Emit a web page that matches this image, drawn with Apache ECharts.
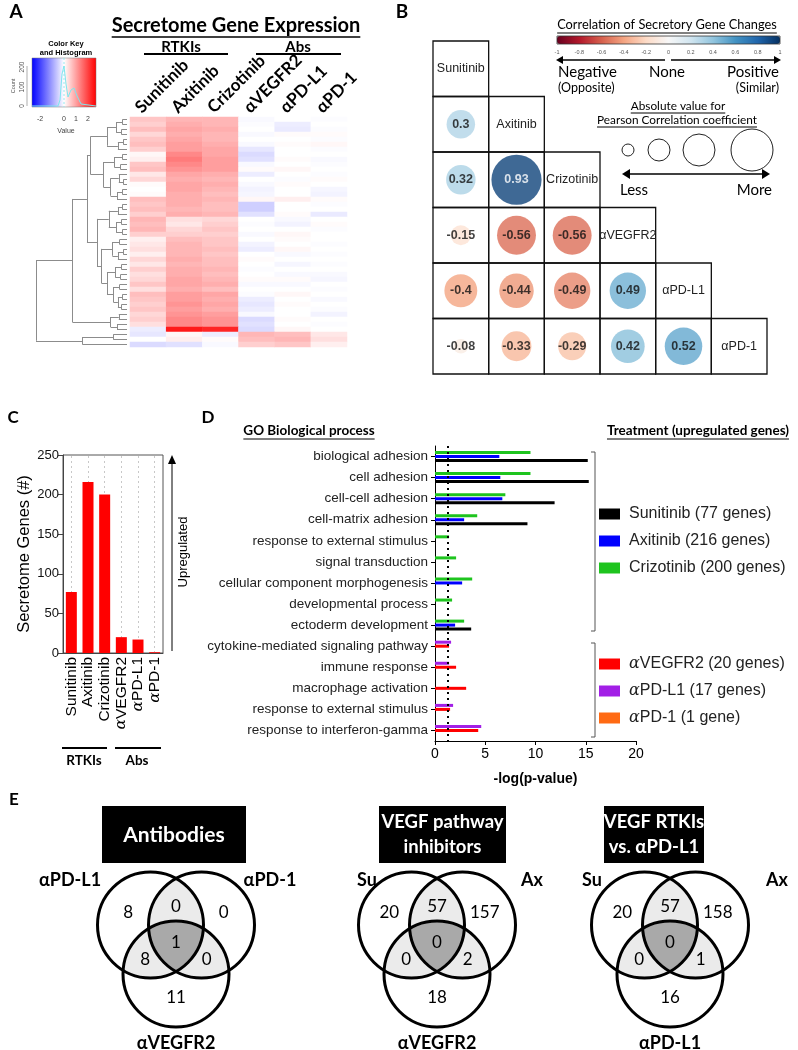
<!DOCTYPE html>
<html><head><meta charset="utf-8">
<script src="https://cdn.jsdelivr.net/npm/echarts@6/dist/echarts.min.js"></script>
<style>html,body{margin:0;padding:0;background:#fff}#c{width:798px;height:1050px}</style>
</head><body><div id="c"></div>
<script>
// ================= DATA =================
// Panel A: heatmap (rows top->bottom; columns = treatments)
const heatCols = ['Sunitinib','Axitinib','Crizotinib','αVEGFR2','αPD-L1','αPD-1'];
const heatRows = [
 [0.7,0.9,0.9,-0.1,0.0,-0.05],[0.6,1.0,0.9,-0.05,-0.3,0.0],[0.8,1.1,1.0,0.0,-0.35,-0.05],[0.5,1.0,0.9,-0.1,0.05,0.05],
 [0.7,1.1,0.9,0.0,0.0,-0.05],[0.8,1.2,1.0,-0.1,0.05,0.1],[0.6,1.2,1.1,-0.4,0.0,-0.05],[0.1,1.4,1.1,-0.6,0.0,0.0],
 [0.2,1.5,1.2,-0.5,0.05,-0.1],[0.7,1.4,1.2,-0.1,0.0,-0.05],[0.8,1.3,1.2,0.05,0.1,0.0],[0.3,1.1,1.0,-0.3,0.0,-0.05],
 [0.5,1.0,0.9,0.0,-0.05,0.05],[0.05,1.1,1.0,-0.1,0.05,0.0],[0.0,1.1,0.9,-0.2,0.0,-0.15],[0.05,1.0,0.8,-0.15,0.0,-0.2],
 [0.8,1.0,0.9,0.1,0.2,0.05],[0.7,1.0,0.8,-0.8,0.0,-0.05],[0.8,0.9,0.8,-0.8,0.0,0.0],[0.6,1.0,0.9,-0.5,0.05,-0.35],
 [0.9,0.4,0.5,0.0,-0.1,0.0],[0.8,0.3,0.6,-0.05,-0.2,0.05],[0.9,0.5,0.7,0.0,0.0,-0.05],[0.6,0.6,0.6,-0.1,0.1,0.0],
 [0.2,0.8,0.7,0.0,0.05,0.0],[0.3,0.9,0.7,-0.2,0.0,-0.05],[0.4,0.9,0.8,-0.3,0.1,0.0],[0.2,0.9,0.7,0.0,-0.1,-0.05],
 [0.5,1.0,0.8,0.05,0.0,0.0],[0.3,0.9,0.8,0.0,-0.15,-0.05],[0.6,1.0,0.9,-0.05,0.0,0.0],[0.4,1.0,0.8,0.0,-0.1,-0.1],
 [0.5,1.1,0.9,0.05,0.05,-0.15],[0.7,1.1,1.0,-0.1,-0.1,0.0],[0.4,1.0,0.8,0.0,0.0,-0.05],[0.8,1.2,1.1,-0.05,0.1,0.0],
 [0.7,1.2,1.0,-0.3,0.0,-0.1],[0.6,1.3,1.1,-0.4,0.05,0.0],[0.7,1.2,1.0,-0.3,0.0,-0.05],[0.5,1.3,1.2,-0.1,0.0,-0.2],
 [0.6,1.4,1.3,-0.6,0.05,0.0],[0.4,1.4,1.3,-0.5,0.0,-0.05],[-0.3,2.3,2.2,-0.6,0.1,0.0],[-0.4,0.1,-0.3,0.9,0.8,0.3],
 [0.0,0.2,0.05,0.8,0.9,0.4],[-0.6,-0.5,-0.1,0.6,0.7,0.2]
];
// dendrogram: node = [mergeHeight, left, right]; leaf = row index
const dendroTree = [10,
 [6.0,
  [4.4,
   [4.0,
    [2.2,[1.2,[0.5,0,1],[0.6,2,3]],[1.0,[0.4,4,5],6]],
    [2.6,[1.4,[0.5,7,8],[0.7,9,10]],[1.8,[0.9,11,[0.4,12,13]],[1.1,[0.5,14,15],16]]]],
   [3.3,
    [2.0,[1.0,[0.5,17,18],19],[1.2,[0.6,20,21],[0.5,22,23]]],
    [2.8,[1.6,[0.8,24,25],[1.0,[0.4,26,27],28]],
         [2.2,[1.3,[0.6,29,30],[0.7,31,32]],[1.5,[0.8,33,34],[1.0,[0.5,35,36],[0.6,37,38]]]]]]],
  [1.8,[0.9,39,40],[1.1,41,42]]],
 [4.9,[1.5,43,44],45]];
const keyTicks = [-2,0,1,2];

// Panel B: Pearson correlations (lower triangle)
const corrNames = ['Sunitinib','Axitinib','Crizotinib','αVEGFR2','αPD-L1','αPD-1'];
const corrRows = [[],[0.3],[0.32,0.93],[-0.15,-0.56,-0.56],[-0.4,-0.44,-0.49,0.49],[-0.08,-0.33,-0.29,0.42,0.52]];
const corrTicks = [-1,-0.8,-0.6,-0.4,-0.2,0,0.2,0.4,0.6,0.8,1];

// Panel C: upregulated secretome genes
const treatNames = ['Sunitinib','Axitinib','Crizotinib','αVEGFR2','αPD-L1','αPD-1'];
const geneCounts = [77,216,200,20,17,1];

// Panel D: GO enrichment, -log(p-value)
const goTerms = ['biological adhesion','cell adhesion','cell-cell adhesion','cell-matrix adhesion',
 'response to external stimulus','signal transduction','cellular component morphogenesis',
 'developmental process','ectoderm development','cytokine-mediated signaling pathway',
 'immune response','macrophage activation','response to external stimulus','response to interferon-gamma'];
const sunitinibLogP  = [15.2,15.3,11.9,9.2,'-','-','-','-',3.6,'-','-','-','-','-'];
const axitinibLogP   = [6.4,6.5,6.7,2.9,'-','-',2.7,'-',2.0,'-','-','-','-','-'];
const crizotinibLogP = [9.5,9.5,7.0,4.2,1.4,2.1,3.7,1.7,2.9,'-','-','-','-','-'];
const vegfr2LogP     = ['-','-','-','-','-','-','-','-','-',1.4,2.1,3.1,1.5,4.3];
const pdl1LogP       = ['-','-','-','-','-','-','-','-','-',1.6,1.4,'-',1.8,4.6];
const pd1LogP        = ['-','-','-','-','-','-','-','-','-','-','-','-','-','-'];
const pThreshold = 1.301; // -log10(0.05)

// Panel E: Venn diagrams (A only, AB, B only, AC, ABC, BC, C only)
const vennTitles = ['Antibodies','VEGF pathway\ninhibitors','VEGF RTKIs\nvs. αPD-L1'];
const vennSets = [['αPD-L1','αPD-1','αVEGFR2'],['Su','Ax','αVEGFR2'],['Su','Ax','αPD-L1']];
const vennCounts = [[8,0,0,8,1,0,11],[20,57,157,0,0,2,18],[20,57,158,0,0,1,16]];

// ================= HELPERS =================
const CAL = 'Lato', ARI = '"Liberation Sans"';
const mctx = document.createElement('canvas').getContext('2d');
function tw(t, font){ mctx.font = font; return mctx.measureText(t).width; }
const G = [];
function T(x,y,text,font,o={}){ G.push({type:'text',x,y,rotation:o.rot||0,z:20,silent:true,
  style:{text,font,fill:o.fill||'#000',align:o.align||'center',verticalAlign:o.va||'middle',lineHeight:o.lh}}); }
function L(points,color='#000',w=1,dash){ G.push({type:'polyline',z:20,silent:true,shape:{points},
  style:{stroke:color,lineWidth:w,fill:null,lineDash:dash||null}}); }
function UT(x,y,text,font,off,w=1,o={}){ T(x,y,text,font,o); const W=tw(text,font);
  const x0 = (o.align==='left')?x:(o.align==='right'?x-W:x-W/2); L([[x0,y+off],[x0+W,y+off]],'#000',w); }
function head(tip,dir,len=7,half=4,color='#000'){
  const [dx,dy]=dir; const bx=tip[0]-dx*len, by=tip[1]-dy*len;
  G.push({type:'polygon',z:20,silent:true,shape:{points:[tip,[bx-dy*half,by+dx*half],[bx+dy*half,by-dx*half]]},style:{fill:color}}); }
function alphaRich(s){ return s.startsWith('α') ? '{a|α}'+s.slice(1) : s; }

// ---- dendrogram segments ----
const dendroSegs = [];
(function walk(n){
  if (typeof n === 'number') return {y:n,h:0};
  const a = walk(n[1]), b = walk(n[2]), h = n[0];
  dendroSegs.push([[h,a.y],[h,b.y]],[[h,a.y],[a.h,a.y]],[[h,b.y],[b.h,b.y]]);
  return {y:(a.y+b.y)/2,h};
})(dendroTree);

// ================= STATIC ANNOTATIONS =================
T(16,12,'A','bold 19px '+CAL); T(402,12,'B','bold 19px '+CAL);
T(13,418,'C','bold 17px '+CAL); T(208,418,'D','bold 17px '+CAL); T(14,800,'E','bold 17px '+CAL);
// Panel A headings
UT(236,26,'Secretome Gene Expression','bold 20px '+CAL,11,1.6);
T(181,47,'RTKIs','bold 15px '+CAL); L([[144,54],[228,54]],'#000',2);
T(298,47,'Abs','bold 15px '+CAL); L([[256,54],[341,54]],'#000',2);
const HM = {left:130, top:117, width:217, height:230};
heatCols.forEach((n,i)=>T(HM.left+(i+0.5)*HM.width/heatCols.length-10,HM.top-7,n,'bold 17px '+CAL,{align:'left',rot:Math.PI/4}));
// colour key
T(66,44,'Color Key','bold 7.5px '+ARI); T(66,53,'and Histogram','bold 7.5px '+ARI);
G.push({type:'rect',z:15,silent:true,shape:{x:32,y:58,width:64,height:49},
  style:{fill:{type:'linear',x:0,y:0,x2:1,y2:0,colorStops:[{offset:0,color:'#0000ff'},{offset:0.5,color:'#ffffff'},{offset:1,color:'#ff0000'}]},stroke:'#777',lineWidth:0.5}});
L([[32,106],[58,106],[60,100],[62,74],[64,66],[66,84],[68,97],[71,90],[74,88],[77,96],[81,104],[96,106]],'#7fe6ee',1);
L([[64,58],[64,107]],'#7fe6ee',0.8,[2,2]);
L([[27,66],[27,106]],'#777',0.6);
[['200',67],['100',87],['0',106]].forEach(([t,y])=>T(22,y,t,'6.5px '+ARI,{fill:'#555',rot:Math.PI/2}));
T(13,86,'Count','5.5px '+ARI,{fill:'#555',rot:Math.PI/2});
keyTicks.forEach(v=>T(64+v*12,119,String(v),'7px '+ARI,{fill:'#444'}));
T(66,131,'Value','7px '+ARI,{fill:'#444'});

// Panel B legend
UT(667,25,'Correlation of Secretory Gene Changes','12.8px '+CAL,8);
G.push({type:'rect',z:21,silent:true,shape:{x:557,y:36,width:223,height:8},style:{fill:null,stroke:'#333',lineWidth:0.8}});
corrTicks.forEach(t=>T(557+(t+1)/2*223,52,String(t),'5.5px '+ARI,{fill:'#555'}));
L([[665,60],[561,60]],'#000',1.4); head([556,60],[-1,0],7,4);
L([[671,60],[776,60]],'#000',1.4); head([781,60],[1,0],7,4);
T(558,72,'Negative','15px '+CAL,{align:'left'}); T(667,72,'None','15px '+CAL); T(779,72,'Positive','15px '+CAL,{align:'right'});
T(558,88,'(Opposite)','12.5px '+CAL,{align:'left'}); T(779,88,'(Similar)','12.5px '+CAL,{align:'right'});
UT(678,106,'Absolute value for','11.8px '+CAL,7);
UT(677,120,'Pearson Correlation coefficient','11.8px '+CAL,7);
[[628,6],[659,11],[699,16],[752,21]].forEach(([x,r])=>G.push({type:'circle',z:20,silent:true,shape:{cx:x,cy:150,r},style:{fill:null,stroke:'#222',lineWidth:1}}));
L([[628,174],[764,174]],'#000',1.4); head([622,174],[-1,0],8,5); head([770,174],[1,0],8,5);
T(620,190,'Less','15px '+CAL,{align:'left'}); T(772,190,'More','15px '+CAL,{align:'right'});

// Panel C extras
L([[172,651],[172,462]],'#000',1); head([172,455],[0,-1],9,4);
T(183,552,'Upregulated','13px '+ARI,{rot:Math.PI/2});
L([[62,748],[107,748]],'#000',2); T(84,761,'RTKIs','bold 13.5px '+CAL);
L([[115,748],[161,748]],'#000',2); T(137,761,'Abs','bold 13.5px '+CAL);

// Panel D headings and brackets
UT(309,431,'GO Biological process','bold 13.5px '+CAL,8);
UT(698,431,'Treatment (upregulated genes)','bold 13.5px '+CAL,8);
L([[591,452],[595,452],[595,631],[591,631]],'#555',1);
L([[591,643],[595,643],[595,737],[591,737]],'#555',1);

// Panel E venns
const vennLayout = [
  {mx:176, box:[102,246], lab:[70,270], tf:21},
  {mx:437, box:[379,506], lab:[367,532], tf:18.5},
  {mx:670, box:[604,704], lab:[592,777], tf:18.5}];
function regionPoly(circles, idx){
  const pts=[];
  idx.forEach(k=>{const c=circles[k];
    for(let a=0;a<720;a++){const t=a/720*2*Math.PI; const p=[c[0]+c[2]*Math.cos(t),c[1]+c[2]*Math.sin(t)];
      if(idx.every(m=>m===k||Math.hypot(p[0]-circles[m][0],p[1]-circles[m][1])<=circles[m][2]+0.01)) pts.push(p);} });
  const cx=pts.reduce((s,p)=>s+p[0],0)/pts.length, cy=pts.reduce((s,p)=>s+p[1],0)/pts.length;
  pts.sort((p,q)=>Math.atan2(p[1]-cy,p[0]-cx)-Math.atan2(q[1]-cy,q[0]-cx));
  return pts;
}
function regionCentroid(C, mask){ // centroid of the exclusive region given membership mask
  let sx=0, sy=0, n=0;
  const x0=Math.min(...C.map(c=>c[0]-c[2])), x1=Math.max(...C.map(c=>c[0]+c[2]));
  const y0=Math.min(...C.map(c=>c[1]-c[2])), y1=Math.max(...C.map(c=>c[1]+c[2]));
  for(let x=x0;x<=x1;x+=1) for(let y=y0;y<=y1;y+=1){
    if(C.every((c,k)=>(Math.hypot(x-c[0],y-c[1])<=c[2])===!!mask[k])){sx+=x;sy+=y;n++;}
  }
  return [sx/n, sy/n];
}
const regionMasks = [[1,0,0],[1,1,0],[0,1,0],[1,0,1],[1,1,1],[0,1,1],[0,0,1]];
vennLayout.forEach((v,i)=>{
  const r=53, my=925, dx=51, dy=49;
  const C=[[v.mx-dx/2,my,r],[v.mx+dx/2,my,r],[v.mx,my+dy,r]];
  [[0,1],[0,2],[1,2]].forEach(pr=>G.push({type:'polygon',z:5,silent:true,shape:{points:regionPoly(C,pr)},style:{fill:'#ebebeb'}}));
  G.push({type:'polygon',z:6,silent:true,shape:{points:regionPoly(C,[0,1,2])},style:{fill:'#a9a9a9'}});
  C.forEach(c=>G.push({type:'circle',z:7,silent:true,shape:{cx:c[0],cy:c[1],r:c[2]},style:{fill:null,stroke:'#000',lineWidth:3}}));
  G.push({type:'rect',z:8,silent:true,shape:{x:v.box[0],y:806,width:v.box[1]-v.box[0],height:57},style:{fill:'#000'}});
  T((v.box[0]+v.box[1])/2,835,vennTitles[i],'bold '+v.tf+'px '+CAL,{fill:'#fff',lh:25});
  T(v.lab[0],880,vennSets[i][0],'bold 18px '+CAL); T(v.lab[1],880,vennSets[i][1],'bold 18px '+CAL);
  T(v.mx,1043,vennSets[i][2],'bold 18px '+CAL);
  vennCounts[i].forEach((n,k)=>{ const p=regionCentroid(C,regionMasks[k]); T(p[0],p[1],String(n),'17px '+CAL); });
});

// ================= CHART =================
const chart = echarts.init(document.getElementById('c'), null, {renderer:'canvas', width:798, height:1050});
const corrData = [], corrCells = [];
corrRows.forEach((row,i)=>{ for(let j=0;j<=i;j++) corrCells.push([j,i]);
  row.forEach((r,j)=>corrData.push({value:[j,i,r], label:{color: Math.abs(r)>0.8?'#fff':'#111'}})); });
const idx6 = ['0','1','2','3','4','5'];
const noAxis = {show:false};
const geneName = (n,c)=>`${n} (${c} gene${c===1?'':'s'})`;
const dColors = {Sunitinib:'#000000',Axitinib:'#0000ff',Crizotinib:'#1ec41e','αVEGFR2':'#ff0000','αPD-L1':'#a21fe6','αPD-1':'#ff6a13'};
const dData = {Sunitinib:sunitinibLogP,Axitinib:axitinibLogP,Crizotinib:crizotinibLogP,'αVEGFR2':vegfr2LogP,'αPD-L1':pdl1LogP,'αPD-1':pd1LogP};
const dStack = {Crizotinib:'s1',Axitinib:'s2',Sunitinib:'s3','αPD-L1':'s1','αVEGFR2':'s2','αPD-1':'s3'};
const dOrder = ['Crizotinib','Axitinib','Sunitinib','αPD-L1','αVEGFR2','αPD-1'];

const dSeries = dOrder.map((n,k)=>({
  type:'bar', name: geneName(n, geneCounts[treatNames.indexOf(n)]), xAxisIndex:4, yAxisIndex:4,
  data: dData[n], stack: dStack[n], barWidth:3, barGap:'33%', barCategoryGap:'40%',
  itemStyle:{color:dColors[n]}, silent:true, z:3,
  markLine: k===0 ? {silent:true, symbol:['none','none'], label:{show:false},
    lineStyle:{type:[2,4],color:'#000',width:2}, data:[{xAxis:pThreshold}]} : undefined
}));

const option = {
  animation:false, backgroundColor:'#fff',
  grid:[
    {left:36, top:117, width:91, height:230, outerBoundsMode:'none'},
    {left:HM.left, top:HM.top, width:HM.width, height:HM.height, outerBoundsMode:'none'},
    {left:433, top:41, width:334, height:333, outerBoundsMode:'none'},
    {left:63, top:455, width:100, height:198, outerBoundsMode:'none', show:true, borderColor:'#555', borderWidth:1},
    {left:435, top:446, width:201, height:295, outerBoundsMode:'none'}
  ],
  xAxis:[
    {gridIndex:0, type:'value', min:0, max:10, inverse:true, show:false},
    {gridIndex:1, type:'category', data:heatCols, show:false},
    {gridIndex:2, type:'category', data:idx6, show:false},
    {gridIndex:3, type:'category', data:treatNames, axisLine:{lineStyle:{color:'#444'}}, axisTick:noAxis, splitLine:noAxis,
     axisLabel:{rotate:90, margin:4, interval:0, color:'#000', fontFamily:ARI, fontSize:15.5, formatter:alphaRich, rich:{a:{fontFamily:'"DejaVu Serif"',fontStyle:'italic',fontSize:15.5}}}},
    {gridIndex:4, type:'value', min:0, max:20, interval:5, splitLine:noAxis,
     axisLine:{show:true, lineStyle:{color:'#000'}}, axisTick:{show:true, length:4, lineStyle:{color:'#000'}},
     axisLabel:{color:'#000', fontFamily:ARI, fontSize:14, margin:6},
     name:'-log(p-value)', nameLocation:'middle', nameGap:31, nameTextStyle:{fontFamily:ARI, fontWeight:'bold', fontSize:14, color:'#000'}}
  ],
  yAxis:[
    {gridIndex:0, type:'value', min:-0.5, max:heatRows.length-0.5, inverse:true, show:false},
    {gridIndex:1, type:'category', data:heatRows.map((_,i)=>String(i)), inverse:true, show:false},
    {gridIndex:2, type:'category', data:idx6, inverse:true, show:false},
    {gridIndex:3, type:'value', min:0, max:250, interval:50, splitLine:noAxis,
     axisLine:{show:true, lineStyle:{color:'#444'}}, axisTick:{show:true, length:5, lineStyle:{color:'#444'}},
     axisLabel:{color:'#111', fontFamily:ARI, fontSize:13, margin:4},
     name:'Secretome Genes (#)', nameLocation:'middle', nameGap:27, nameTextStyle:{fontFamily:ARI, fontSize:16.5, color:'#000'}},
    {gridIndex:4, type:'category', data:goTerms.map((_,i)=>String(i)), inverse:true,
     axisLine:{show:true, lineStyle:{color:'#000'}}, axisTick:{show:true, alignWithLabel:true, length:4, lineStyle:{color:'#000'}},
     axisLabel:{interval:0, color:'#222', fontFamily:ARI, fontSize:13.5, margin:7, padding:[0,0,8,0], formatter:(v)=>goTerms[+v]}}
  ],
  visualMap:[
    {type:'continuous', seriesIndex:1, min:-2.5, max:2.5, show:false,
     inRange:{color:['#0000ff','#b4b4ff','#ffffff','#ff9a9a','#ff0000']}},
    {type:'continuous', seriesIndex:3, dimension:2, min:-1, max:1, orient:'horizontal', left:557, top:36, padding:0,
     itemWidth:8, itemHeight:223, calculable:false, hoverLink:false,
     inRange:{color:['#67001f','#b2182b','#d6604d','#f4a582','#fddbc7','#f7f7f7','#d1e5f0','#92c5de','#4393c3','#2166ac','#053061']}}
  ],
  legend:[
    {data:['Sunitinib','Axitinib','Crizotinib'].map(n=>geneName(n,geneCounts[treatNames.indexOf(n)])),
     orient:'vertical', left:599, top:506, padding:0, itemWidth:21, itemHeight:11, itemGap:11, icon:'rect', selectedMode:false,
     textStyle:{fontFamily:ARI, fontSize:16, color:'#222', padding:[0,0,0,4]}},
    {data:['αVEGFR2','αPD-L1','αPD-1'].map(n=>geneName(n,geneCounts[treatNames.indexOf(n)])),
     orient:'vertical', left:599, top:656, padding:0, itemWidth:21, itemHeight:11, itemGap:11, icon:'rect', selectedMode:false,
     formatter:alphaRich, textStyle:{fontFamily:ARI, fontSize:16, color:'#222', padding:[0,0,0,4], rich:{a:{fontFamily:'"DejaVu Serif"',fontStyle:'italic',fontSize:16,color:'#222'}}}}
  ],
  series:[
    {type:'lines', coordinateSystem:'cartesian2d', xAxisIndex:0, yAxisIndex:0, polyline:false, silent:true,
     data:dendroSegs.map(s=>({coords:s})), lineStyle:{color:'#8c8c8c', width:1, opacity:1}},
    {type:'heatmap', xAxisIndex:1, yAxisIndex:1, silent:true,
     data:heatRows.flatMap((row,r)=>row.map((v,c)=>[c,r,v]))},
    {type:'custom', xAxisIndex:2, yAxisIndex:2, silent:true, data:corrCells, z:1,
     renderItem:(params,api)=>{
       const j=api.value(0), i=api.value(1), c=api.coord([j,i]), s=api.size([1,1]);
       const ch=[{type:'rect', shape:{x:c[0]-s[0]/2, y:c[1]-s[1]/2, width:s[0], height:s[1]}, style:{fill:null, stroke:'#111', lineWidth:1.3}}];
       if(i===j) ch.push({type:'text', x:c[0], y:c[1], style:{text:corrNames[i], fill:'#222', font:'12.5px '+ARI, align:'center', verticalAlign:'middle'}});
       return {type:'group', children:ch};
     }},
    {type:'scatter', xAxisIndex:2, yAxisIndex:2, silent:true, z:3, data:corrData,
     symbolSize:(v)=>52*Math.sqrt(Math.abs(v[2])),
     label:{show:true, formatter:(p)=>String(p.value[2]), fontFamily:ARI, fontWeight:'bold', fontSize:12.5}},
    {type:'bar', xAxisIndex:3, yAxisIndex:3, data:geneCounts, barWidth:11, itemStyle:{color:'#ff0000'}, silent:true, z:3,
     markLine:{silent:true, z:1, symbol:['none','none'], label:{show:false}, lineStyle:{type:[2,3], color:'#c8c8c8', width:1},
       data:treatNames.map(n=>({xAxis:n}))}},
    ...dSeries
  ],
  graphic:{elements:G}
};
chart.setOption(option);
</script></body></html>
